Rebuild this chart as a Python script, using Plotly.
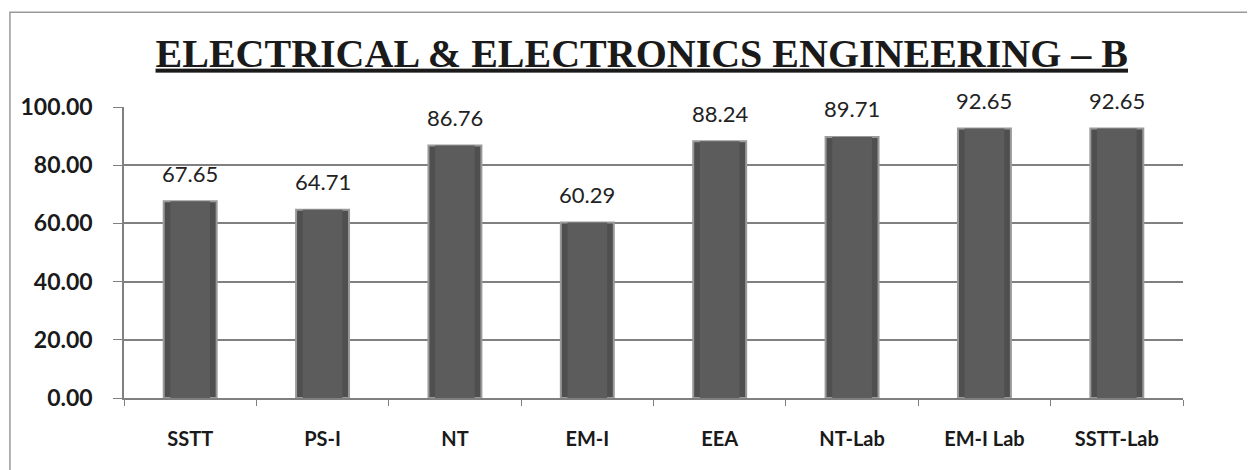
import plotly.graph_objects as go

categories = ["SSTT", "PS-I", "NT", "EM-I", "EEA", "NT-Lab", "EM-I Lab", "SSTT-Lab"]
values = [67.65, 64.71, 86.76, 60.29, 88.24, 89.71, 92.65, 92.65]
y_ticks = [0, 20, 40, 60, 80, 100]
y_tick_labels = ["0.00", "20.00", "40.00", "60.00", "80.00", "100.00"]
title_text = "ELECTRICAL & ELECTRONICS ENGINEERING – B"

fig = go.Figure()
fig.add_trace(go.Bar(
    x=categories, y=values,
    width=0.4,
    marker=dict(color="#4f4f4f", line=dict(color="#9a9a9a", width=2)),
    showlegend=False,
))
# inner shade to mimic bevel
fig.add_trace(go.Bar(
    x=categories, y=values,
    width=0.3,
    marker=dict(color="#5c5c5c", line=dict(width=0)),
    showlegend=False,
))

for c, v in zip(categories, values):
    fig.add_annotation(x=c, y=v, text=f"{v:.2f}", showarrow=False,
                       yshift=28, font=dict(family="Lato", size=22, color="#222"))

fig.update_layout(
    width=1255, height=470,
    barmode="overlay",
    margin=dict(l=116, r=80, t=99, b=80),
    paper_bgcolor="white", plot_bgcolor="white",
    title=dict(text=title_text, x=0.505, xanchor="center", y=0.905, yanchor="middle",
               font=dict(family="Liberation Serif", size=40, color="#1a1a1a",
                         weight="bold", lineposition="under")),
    xaxis=dict(showline=True, linecolor="#808080", linewidth=1.5,
               ticks="outside", tickson="boundaries", ticklen=6, tickcolor="#808080",
               ticklabelstandoff=22,
               tickfont=dict(family="Lato", size=20, color="#1a1a1a", weight="bold"),
               showgrid=False),
    yaxis=dict(range=[0, 100], tickvals=y_ticks, ticktext=y_tick_labels,
               showline=True, linecolor="#808080", linewidth=1.5,
               ticks="outside", ticklen=9, tickcolor="#808080",
               ticklabelstandoff=16,
               showgrid=True, gridcolor="#808080", gridwidth=1.5,
               tickfont=dict(family="Lato", size=23, color="#1a1a1a", weight="bold")),
)

fig.add_shape(type="rect", xref="paper", yref="paper",
              x0=-0.1077, x1=1.08, y0=-0.35, y1=1.326,
              line=dict(color="#999", width=1.5), layer="below")

fig.write_html("out.html")
